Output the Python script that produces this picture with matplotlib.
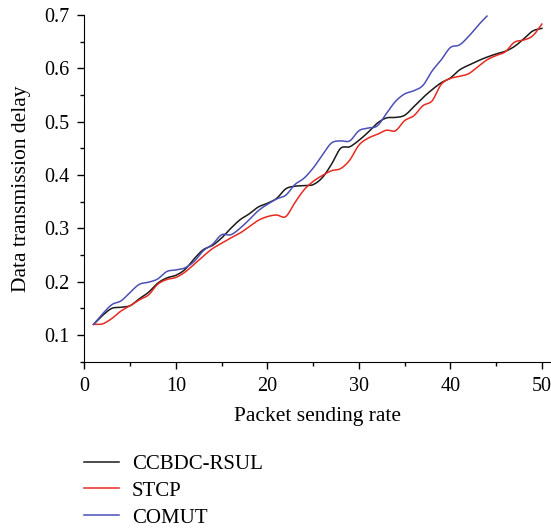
import matplotlib
matplotlib.use("Agg")
import matplotlib.pyplot as plt
import numpy as np

plt.rcParams['font.family'] = ['Liberation Serif', 'DejaVu Serif']

# packet sending rate
x_all = list(range(1, 51))

ccbdc = [0.120, 0.137, 0.150, 0.152, 0.155, 0.168, 0.180, 0.197, 0.207, 0.212,
         0.223, 0.243, 0.260, 0.268, 0.282, 0.300, 0.316, 0.327, 0.340, 0.347,
         0.356, 0.374, 0.379, 0.380, 0.382, 0.395, 0.420, 0.450, 0.453, 0.465,
         0.480, 0.497, 0.507, 0.508, 0.512, 0.528, 0.545, 0.560, 0.573, 0.582,
         0.597, 0.606, 0.614, 0.621, 0.627, 0.632, 0.641, 0.655, 0.670, 0.675]

stcp = [0.120, 0.121, 0.131, 0.145, 0.155, 0.166, 0.175, 0.195, 0.204, 0.208,
        0.218, 0.233, 0.248, 0.262, 0.272, 0.282, 0.291, 0.303, 0.315, 0.322,
        0.325, 0.322, 0.348, 0.372, 0.388, 0.399, 0.408, 0.412, 0.428, 0.456,
        0.469, 0.476, 0.484, 0.483, 0.502, 0.511, 0.530, 0.539, 0.570, 0.581,
        0.585, 0.590, 0.603, 0.616, 0.624, 0.631, 0.649, 0.653, 0.661, 0.683]

comut = [0.120, 0.140, 0.157, 0.164, 0.180, 0.195, 0.199, 0.205, 0.219, 0.222,
         0.226, 0.238, 0.258, 0.270, 0.288, 0.288, 0.300, 0.316, 0.333, 0.345,
         0.355, 0.362, 0.382, 0.394, 0.413, 0.437, 0.460, 0.464, 0.464, 0.483,
         0.488, 0.492, 0.515, 0.538, 0.552, 0.558, 0.568, 0.595, 0.616, 0.639,
         0.644, 0.660, 0.680, 0.698]


def smooth(xs, ys, n=12):
    # catmull-rom curve through the points, for the wavy look
    xs = np.asarray(xs, float)
    ys = np.asarray(ys, float)
    px = np.concatenate([[2 * xs[0] - xs[1]], xs, [2 * xs[-1] - xs[-2]]])
    py = np.concatenate([[2 * ys[0] - ys[1]], ys, [2 * ys[-1] - ys[-2]]])
    t = np.linspace(0, 1, n, endpoint=False)
    outx, outy = [], []
    for i in range(1, len(px) - 2):
        for p, out in ((px, outx), (py, outy)):
            p0, p1, p2, p3 = p[i - 1], p[i], p[i + 1], p[i + 2]
            out.extend(0.5 * (2 * p1 + (-p0 + p2) * t
                              + (2 * p0 - 5 * p1 + 4 * p2 - p3) * t ** 2
                              + (-p0 + 3 * p1 - 3 * p2 + p3) * t ** 3))
    outx.append(xs[-1])
    outy.append(ys[-1])
    return outx, outy


fig = plt.figure(figsize=(5.51, 5.29), dpi=100)
ax = fig.add_axes([0.1532, 0.3163, 0.8468, 0.6553])

l1, = ax.plot(*smooth(x_all, ccbdc), color='#1a1a1a', lw=1.1, label='CCBDC-RSUL')
l2, = ax.plot(*smooth(x_all, stcp), color='#e82a20', lw=1.1, label='STCP')
l3, = ax.plot(*smooth(x_all[:len(comut)], comut), color='#4b50b8', lw=1.1, label='COMUT')

ax.set_xlim(0, 51)
ax.set_ylim(0.05, 0.7)
ax.set_xticks([0, 10, 20, 30, 40, 50])
ax.set_xticks([5, 15, 25, 35, 45], minor=True)
ax.set_yticks([0.1, 0.2, 0.3, 0.4, 0.5, 0.6, 0.7])
ax.set_yticks([0.05, 0.15, 0.25, 0.35, 0.45, 0.55, 0.65], minor=True)
ax.spines['top'].set_visible(False)
ax.spines['right'].set_visible(False)
ax.tick_params(which='major', direction='out', length=5, width=1, labelsize=14.5, pad=6)
ax.tick_params(which='minor', direction='out', length=3, width=1)
ax.set_xlabel('Packet sending rate', fontsize=15.5, labelpad=8)
ax.set_ylabel('Data transmission delay', fontsize=15.5, labelpad=9)

fig.legend(handles=[l1, l2, l3], loc='upper left', bbox_to_anchor=(0.137, 0.157),
           frameon=False, fontsize=15, handlelength=1.7, handletextpad=0.6,
           labelspacing=0.35, borderaxespad=0)

fig.savefig('out.png', dpi=100)
